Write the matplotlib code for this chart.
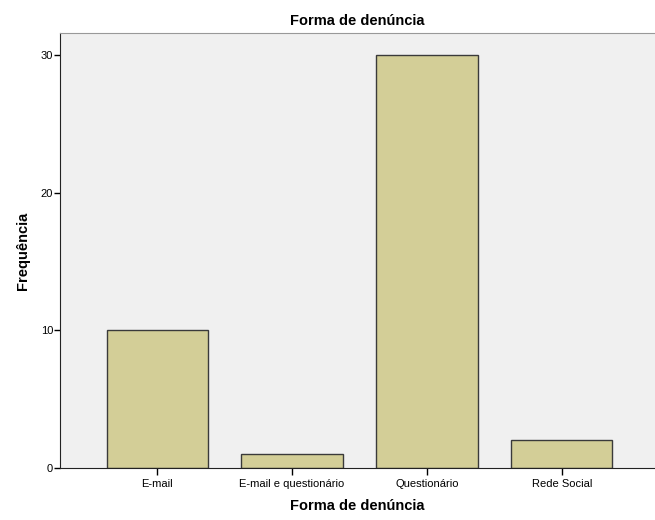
import matplotlib
matplotlib.use("Agg")
import matplotlib.pyplot as plt

categorias = ["E-mail", "E-mail e questionário", "Questionário", "Rede Social"]
frequencias = [10, 1, 30, 2]
yticks = [0, 10, 20, 30]

plt.rcParams['font.family'] = ['Liberation Sans', 'DejaVu Sans']

fig = plt.figure(figsize=(6.55, 5.2), dpi=100)
ax = fig.add_axes([60 / 655, 52 / 520, 595 / 655, 435 / 520])
ax.set_facecolor("#f0f0f0")

x = range(len(categorias))
ax.bar(x, frequencias, width=0.75, color="#d3ce97", edgecolor="#3a3a3a", linewidth=1.0)

ax.set_xlim(-0.72, 3.69)
ax.set_ylim(0, 31.6)
ax.set_xticks(list(x))
ax.set_xticklabels(categorias, fontsize=8)
ax.set_yticks(yticks)
ax.tick_params(axis='y', labelsize=8, length=4, width=1, pad=1)
ax.tick_params(axis='x', length=5, width=1, pad=3)

ax.spines['right'].set_visible(False)
ax.spines['top'].set_color("#999999")
ax.spines['left'].set_color("#222222")
ax.spines['bottom'].set_color("#222222")

ax.set_title("Forma de denúncia", fontsize=10.5, fontweight='bold', pad=6)
ax.set_xlabel("Forma de denúncia", fontsize=10.5, fontweight='bold', labelpad=7)
ax.set_ylabel("Frequência", fontsize=10.5, fontweight='bold', labelpad=8)

fig.savefig("out.png", dpi=100)
